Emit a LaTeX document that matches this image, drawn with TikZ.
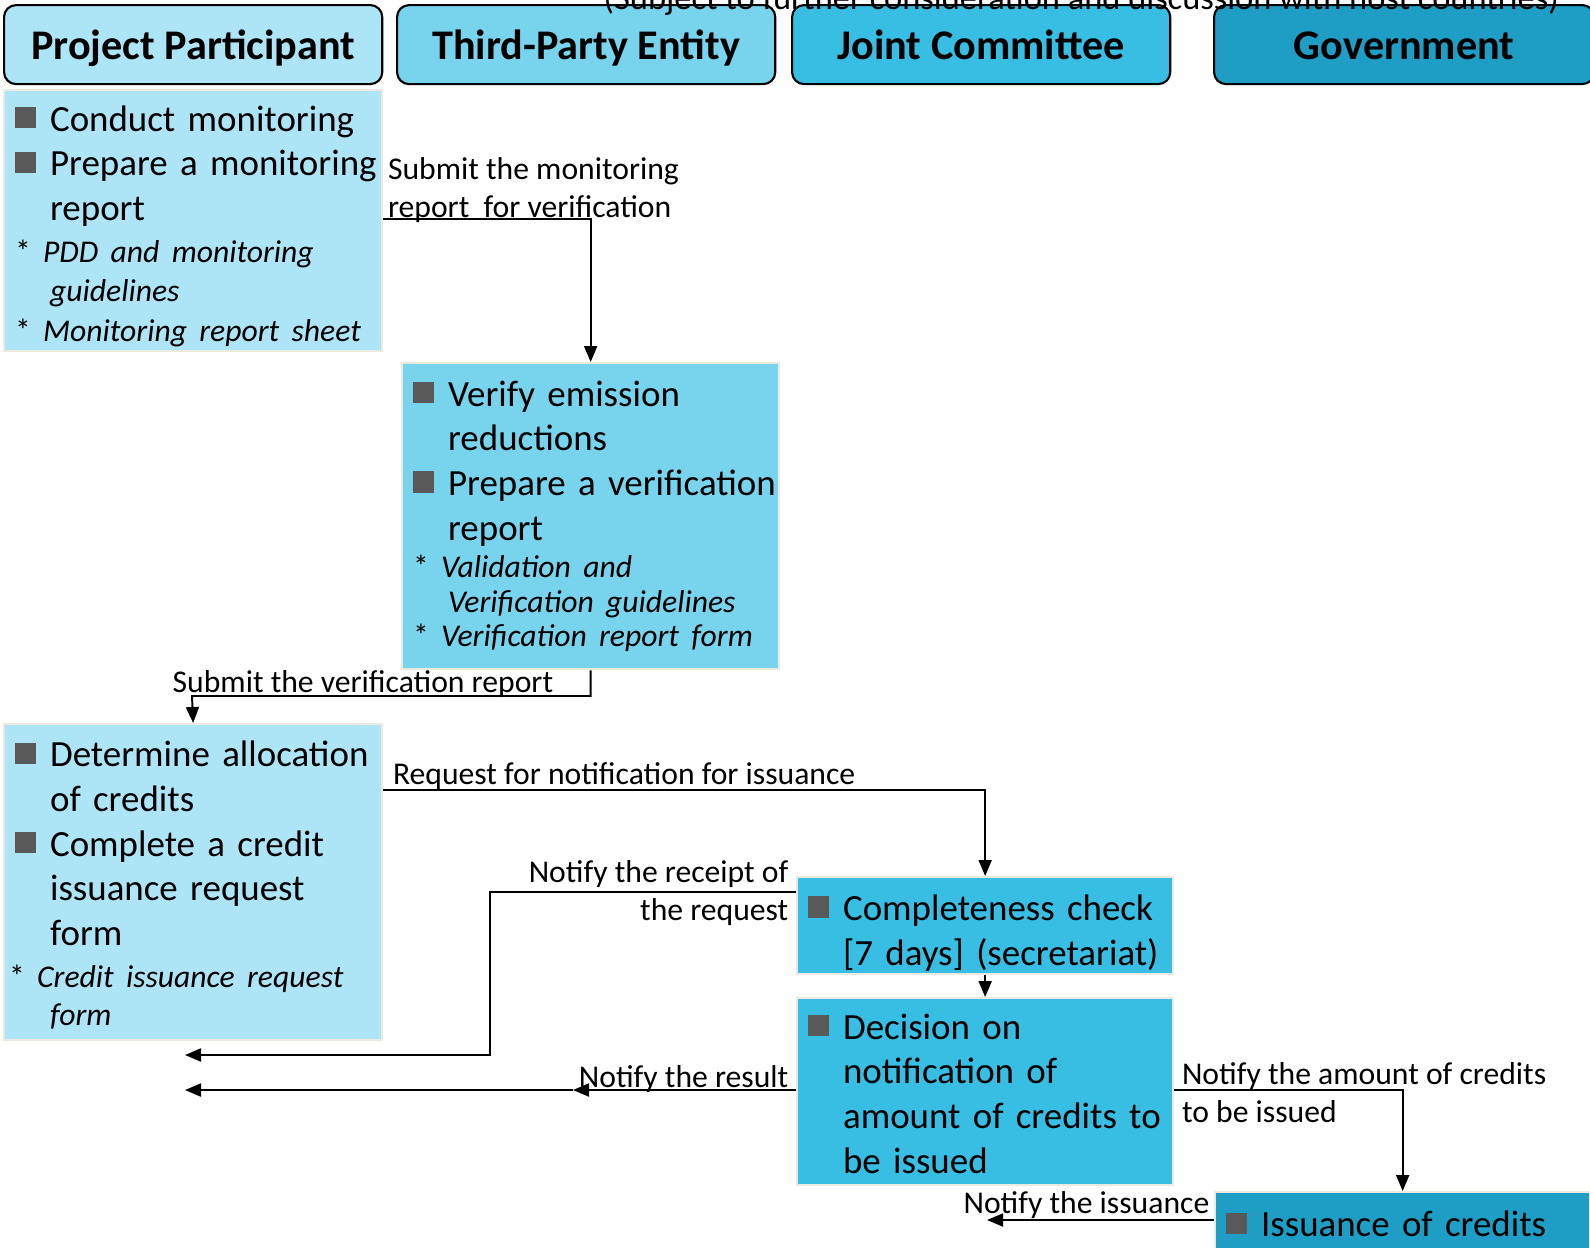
\documentclass[tikz,border=0pt]{standalone}
\usepackage{fontspec}
\setmainfont{Carlito}
\usetikzlibrary{positioning}
\usetikzlibrary{arrows.meta}

\definecolor{pplight}{RGB}{174,229,246}
\definecolor{tpeblue}{RGB}{120,212,236}
\definecolor{jcblue}{RGB}{56,189,227}
\definecolor{govblue}{RGB}{30,158,197}
\definecolor{sqgray}{RGB}{89,89,89}
\definecolor{edgebeige}{RGB}{236,233,224}

\newlength{\sqind}\setlength{\sqind}{0.35cm}
\newcommand{\noteskip}{11.1}
\newcommand{\boxfont}{\fontsize{10.5}{12.7}\selectfont}
\newcommand{\notefont}{\fontsize{9}{\noteskip}\selectfont}
\newcommand{\sqbullet}{\textcolor{sqgray}{\rule[0.8pt]{6pt}{6pt}}}
% optional arg: height of the first line (moves the block down)
\newcommand{\bitem}[2][0pt]{\noindent\mbox{\rule{0pt}{#1}\makebox[\sqind][l]{\sqbullet}#2}\par}
\newcommand{\bcont}[1]{\noindent\mbox{\hspace*{\sqind}#1}\par}
\newcommand{\nitem}[2][0cm]{{\notefont\noindent\mbox{\hspace*{#1}*\ \textit{#2}}\par}}
\newcommand{\ncont}[1]{{\notefont\noindent\mbox{\hspace*{\sqind}\textit{#1}}\par}}

\tikzset{
    hdrnode/.style = {rectangle, rounded corners=0.12cm, draw=black, line width=0.6pt, anchor=north west, minimum width=3.78cm, minimum height=0.79cm, text height=9.2pt, text depth=0.6pt, font=\fontsize{12}{14}\selectfont\bfseries},
    stepnode/.style = {rectangle, draw=edgebeige, line width=0.6pt, anchor=north west, inner xsep=0.11cm, inner ysep=0pt, align=left, font=\boxfont},
    lblnode/.style = {inner sep=0pt, font=\fontsize{9}{10.8}\selectfont},
    edgen/.style = {-{Triangle[length=0.16cm,width=0.13cm]}, line width=0.55pt}
}

\begin{document}
\begin{tikzpicture}[x=0.01cm, y=-0.01cm]
  \useasboundingbox (0,0) rectangle (1590,1247);

  % lane headers
  \node[hdrnode, fill=pplight] (hpp) at (3,4) {Project Participant};
  \node[hdrnode, fill=tpeblue] (htpe) at (396,4) {Third-Party Entity};
  \node[hdrnode, fill=jcblue] (hjc) at (791,4) {Joint Committee};
  \node[hdrnode, fill=govblue, minimum width=3.80cm] (hgov) at (1213,4) {Government};
  \node[anchor=base west, inner sep=0pt, font=\fontsize{9.8}{12}\selectfont] (subj) at (603,9) {(Subject to further consideration and discussion with host countries)};

  % steps
  \node[stepnode, fill=pplight, minimum width=3.78cm, minimum height=2.61cm, text width=3.56cm] (mon) at (3,89) {
    \bitem[10.3pt]{Conduct monitoring}
    \bitem{Prepare a monitoring}
    \bcont{report}
    \vspace{1pt}
    \nitem{PDD and monitoring}
    \ncont{guidelines}
    \nitem{Monitoring report sheet}};
  \node[stepnode, fill=tpeblue, minimum width=3.77cm, minimum height=3.06cm, text width=3.55cm] (ver) at (401,362) {
    \def\noteskip{9.8}%
    \bitem{Verify emission}
    \bcont{reductions}
    \bitem{Prepare a verification}
    \bcont{report}
    \vspace{0.9pt}
    \nitem{Validation and}
    \ncont{Verification guidelines}
    \nitem{Verification report form}};
  \node[stepnode, fill=pplight, minimum width=3.78cm, minimum height=3.16cm, text width=3.56cm] (req) at (3,723) {
    \def\noteskip{10.7}%
    \bitem[8.9pt]{Determine allocation}
    \bcont{of credits}
    \bitem{Complete a credit}
    \bcont{issuance request}
    \bcont{form}
    \vspace{1.3pt}
    \nitem[-0.06cm]{Credit issuance request}
    \ncont{form}};
  \node[stepnode, fill=jcblue, minimum width=3.76cm, minimum height=0.97cm, text width=3.54cm] (chk) at (796,876) {
    \bitem[11.4pt]{Completeness check}
    \bcont{[7 days] (secretariat)}};
  \node[stepnode, fill=jcblue, minimum width=3.76cm, minimum height=1.87cm, text width=3.54cm] (dec) at (796,997) {
    \bitem[8.4pt]{Decision on}
    \bcont{notification of}
    \bcont{amount of credits to}
    \bcont{be issued}};
  \node[stepnode, fill=govblue, minimum width=3.75cm, minimum height=0.64cm, text width=3.53cm] (iss) at (1214,1191) {
    \bitem{Issuance of credits}};

  % connectors
  \coordinate (v2) at (192,696);
  \coordinate (rcptbend) at (490,1055);
  \coordinate (rcptend) at (185,1055);
  \coordinate (resmid) at (573,1090);
  \coordinate (resend) at (185,1090);
  \coordinate (issend) at (987,1220);
  \draw[edgen] (mon.east |- 0,219) -| (ver.north);
  \draw[edgen] (ver.south) |- (v2) -- (req.north);
  \draw[edgen] (req.east |- 0,790) -| (chk.north);
  \draw[edgen] (chk.west |- 0,892) -| (rcptbend) -- (rcptend); % back
  \draw[edgen] (chk.south) -- (dec.north);
  \draw[edgen] (dec.west |- resmid) -- (resmid);
  \draw[edgen] (resmid) -- (resend);
  \draw[edgen] (dec.east |- 0,1090) -| (iss.north);
  \draw[edgen] (iss.west |- issend) -- (issend);

  % labels
  \node[lblnode, inner xsep=0.04cm, anchor=south west, align=left] (l1) at (mon.east |- 0,223) {Submit the monitoring\\report\ \ for verification};
  \node[lblnode, anchor=south west] (l2) at (172,698) {Submit the verification report};
  \node[lblnode, inner xsep=0.09cm, anchor=south west] (l3) at (req.east |- 0,790) {Request for notification for issuance};
  \node[lblnode, inner xsep=0.07cm, anchor=east, align=right] (l4) at (chk.west |- 0,893) {Notify the receipt of\\the request};
  \node[lblnode, inner xsep=0.07cm, anchor=south east] (l5) at (dec.west |- 0,1093) {Notify the result};
  \node[lblnode, inner xsep=0.07cm, anchor=west, align=left] (l7) at (dec.east |- 0,1093) {Notify the amount of credits\\to be issued};
  \node[lblnode, inner xsep=0.04cm, anchor=south east] (l8) at (iss.west |- 0,1219) {Notify the issuance};
\end{tikzpicture}
\end{document}
